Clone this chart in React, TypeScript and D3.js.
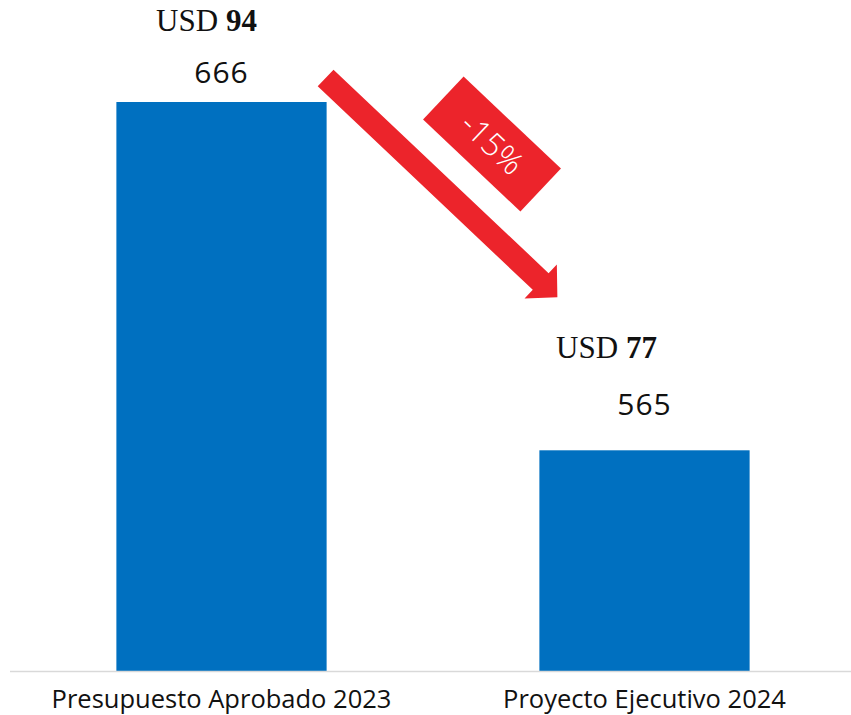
import React from "react";
import { scaleBand, scaleLinear } from "d3";

const categories = ["Presupuesto Aprobado 2023", "Proyecto Ejecutivo 2024"];
const values = [666, 565];
const usdValues = ["94", "77"];
const changeLabel = "-15%";

const W = 851;
const H = 715;
const BLUE = "#0070C0";
const RED = "#EC242B";

const sans = "'Open Sans', 'Noto Sans', sans-serif";
const serif = "'Liberation Serif', 'Times New Roman', serif";

// per-bar label tweaks (the original placed them by hand)
const valueLabelGap = [19, 35];
const usdLabelShift = [-15, -38];
const usdLabelGap = [71, 92];

const App: React.FC = () => {
  const x = scaleBand<string>()
    .domain(categories)
    .range([10, 856])
    .paddingInner(0.503)
    .paddingOuter(0.2515);
  const y = scaleLinear().domain([501, 666]).range([671, 102]);
  const bw = x.bandwidth();

  // arrow from top of first bar down to second bar
  const x0 = x(categories[0])! + bw;
  const x1 = x(categories[1])!;
  const S = [x0 - 1, y(values[0]) - 24];
  const T = [x1 + 18, y(values[1]) - 153];
  const dx = T[0] - S[0];
  const dy = T[1] - S[1];
  const len = Math.hypot(dx, dy);
  const d = [dx / len, dy / len];
  const n = [-d[1], d[0]];
  const shaftW = 11.5;
  const headL = 23;
  const headW = 23.5;
  const B = [T[0] - d[0] * headL, T[1] - d[1] * headL];
  const pt = (p: number[], k: number) => `${p[0] + n[0] * k},${p[1] + n[1] * k}`;
  const arrow = [
    pt(S, shaftW),
    pt(B, shaftW),
    pt(B, headW),
    `${T[0]},${T[1]}`,
    pt(B, -headW),
    pt(B, -shaftW),
    pt(S, -shaftW),
  ].join(" ");
  const angle = (Math.atan2(dy, dx) * 180) / Math.PI;

  const boxCx = 492;
  const boxCy = 144;

  return (
    <div style={{ position: "absolute", left: 0, top: 0 }}>
      <svg width={W} height={H} style={{ display: "block", background: "#fff" }}>
        {categories.map((c, i) => {
          const bx = x(c)!;
          const cx = bx + bw / 2;
          const top = y(values[i]);
          return (
            <g key={c}>
              <rect x={bx} y={top} width={bw} height={y.range()[0] - top} fill={BLUE} />
              <text
                x={cx}
                y={top - valueLabelGap[i]}
                textAnchor="middle"
                fontFamily={sans}
                fontSize={30}
                letterSpacing={1}
                fill="#111"
              >
                {values[i]}
              </text>
              <text
                x={cx + usdLabelShift[i]}
                y={top - usdLabelGap[i]}
                textAnchor="middle"
                fontFamily={serif}
                fontSize={31}
                fill="#111"
              >
                USD <tspan fontWeight="bold">{usdValues[i]}</tspan>
              </text>
              <text
                x={cx}
                y={708}
                textAnchor="middle"
                fontFamily={sans}
                fontSize={25.5}
                fill="#111"
              >
                {c}
              </text>
            </g>
          );
        })}
        <line x1={10} x2={W} y1={671.5} y2={671.5} stroke="#D9D9D9" strokeWidth={1.5} />
        <polygon points={arrow} fill={RED} />
        <g transform={`translate(${boxCx},${boxCy}) rotate(${angle})`}>
          <rect x={-67} y={-29.5} width={134} height={59} fill={RED} />
          <text
            x={0}
            y={11}
            textAnchor="middle"
            fontFamily={sans}
            fontWeight={300}
            fontSize={32}
            fill="#fff"
          >
            {changeLabel}
          </text>
        </g>
      </svg>
    </div>
  );
};

export default App;
